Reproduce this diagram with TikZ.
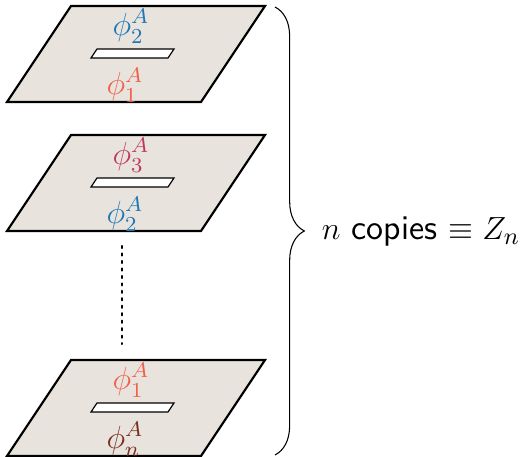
\documentclass[tikz,border=0pt]{standalone}
\usetikzlibrary{decorations.pathreplacing}
\definecolor{planefill}{RGB}{232,228,221}
\definecolor{cblue}{RGB}{31,119,180}
\definecolor{csalmon}{RGB}{240,96,76}
\definecolor{ccrimson}{RGB}{192,57,90}
\definecolor{cbrown}{RGB}{122,46,30}
\tikzset{
  plane/.style={draw=black,fill=planefill,line width=0.8pt,line join=miter},
  slit/.style={draw=black,fill=white,line width=0.45pt},
  lab/.style={inner sep=0pt,font=\large}
}
\begin{document}
\begin{tikzpicture}[x=0.375pt,y=-0.375pt]
\useasboundingbox (0,0) rectangle (527,457);
\foreach \y/\top/\tc/\bot/\bc/\nm in {6/2/cblue/1/csalmon/a, 135/3/ccrimson/2/cblue/b, 360/1/csalmon/n/cbrown/c}{
  \draw[plane] (71,\y) -- (265,\y) -- (201,\y+96) -- (7,\y+96) -- cycle;
  \draw[slit] (97,\y+43) -- (174,\y+43) -- (168,\y+52) -- (91,\y+52) -- cycle;
  \node[lab,text=\tc] (\nm top) at (131,\y+20) {$\phi_{\top}^{A}$};
  \node[lab,text=\bc] (\nm bot) at (125,\y+79) {$\phi_{\bot}^{A}$};
}
\coordinate (d1) at (122,246);
\coordinate (d2) at (122,344);
\draw[line width=0.8pt,dash pattern=on 0.8pt off 2pt,line cap=round] (d1) -- (d2);
\coordinate (b1) at (275,7);
\coordinate (b2) at (275,455);
\draw[line width=0.4pt,decorate,decoration={brace,amplitude=11pt}] (b1) -- (b2);
\node[lab,font=\fontsize{13}{15}\selectfont] (lbl) at (421,232) {$n$ \textsf{copies} $\equiv Z_n$};
\end{tikzpicture}
\end{document}
